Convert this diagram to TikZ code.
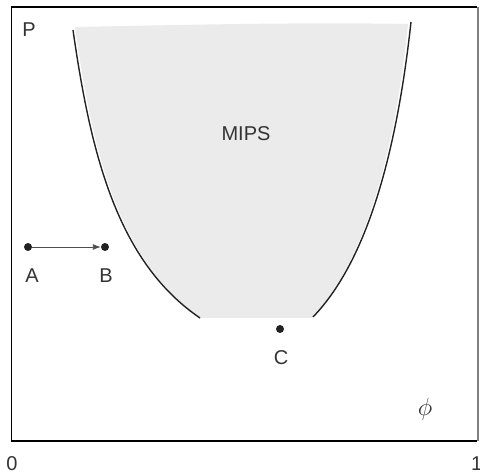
\documentclass[tikz,border=0pt]{standalone}
\usepackage{fontspec}
\setmainfont{Liberation Sans}
\usetikzlibrary{arrows.meta}
\definecolor{fillgray}{RGB}{235,235,235}
\definecolor{inkgray}{RGB}{34,34,34}
\definecolor{txtgray}{RGB}{51,51,51}
\tikzset{
  dotnode/.style={circle,fill=inkgray,inner sep=0pt,minimum size=8pt},
  lbl/.style={text=txtgray,inner sep=0pt,font=\fontsize{20}{22}\selectfont},
  curveline/.style={draw=inkgray,line width=1.4pt},
}
\begin{document}
\begin{tikzpicture}[x=1pt,y=-1pt]
\useasboundingbox (0,0) rectangle (480,473);
% shaded region
\fill[fillgray] (75,27) .. controls (93,156) and (120,262) .. (201,318)
  -- (312,318)
  .. controls (366,260) and (395,150) .. (408,24)
  .. controls (300,22) and (180,25) .. (75,27) -- cycle;
% boundary curves
\draw[curveline] (73,30) .. controls (91,156) and (118,262) .. (200,318);
\draw[curveline] (411,22) .. controls (397,150) and (368,260) .. (313,317);
% frame
\draw[black,line width=1.2pt] (477,7) -- (11.5,7) -- (11.5,441) -- (477,441);
\draw[gray,line width=2pt] (478,7) -- (478,441);
% dots
\node[dotnode] (A) at (28,247) {};
\node[dotnode] (B) at (105,247) {};
\node[dotnode] (C) at (280,329) {};
\draw[draw=inkgray!80,line width=0.9pt,-{Latex[length=8pt,width=6pt]}] (A) -- (B);
% labels
\node[lbl] (la) at (32,276) {A};
\node[lbl] (lb) at (106,276) {B};
\node[lbl] (lc) at (281,358) {C};
\node[lbl] (lp) at (29,30) {P};
\node[lbl] (lm) at (246,134) {MIPS};
\node[lbl,font=\fontsize{25}{27}\selectfont] (lphi) at (425,409) {$\phi$};
\node[lbl] (l0) at (12,464) {0};
\node[lbl,anchor=west] (l1) at (471,464) {1};
\end{tikzpicture}
\end{document}
